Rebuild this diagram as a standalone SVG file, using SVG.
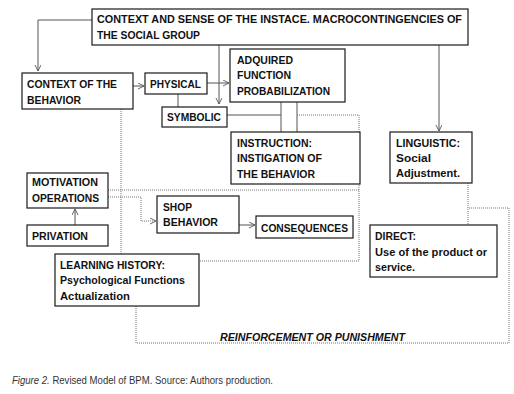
<svg xmlns="http://www.w3.org/2000/svg" width="514" height="394" viewBox="0 0 514 394">
<defs>
<style>
.box{fill:#fff;stroke:#1a1a1a;stroke-width:1.2}
.t{font-family:"Liberation Sans",Arial,sans-serif;font-weight:bold;font-size:11.2px;fill:#111}
.s{fill:none;stroke:#555;stroke-width:1}
.d{fill:none;stroke:#777;stroke-width:1;stroke-dasharray:1 1}
.cap{font-family:"Liberation Sans",Arial,sans-serif;font-size:10.5px;fill:#333}
</style>
<marker id="ar" markerWidth="8" markerHeight="8" refX="6" refY="3" orient="auto" markerUnits="userSpaceOnUse">
<path d="M0,0 L6,3 L0,6" fill="none" stroke="#555" stroke-width="0.9"/>
</marker>
</defs>
<rect width="514" height="394" fill="#fff"/>
<g id="connectors">
<path class="s" d="M92,20 H38 V71" marker-end="url(#ar)"/>
<path class="s" d="M133,86 H144" marker-end="url(#ar)"/>
<path class="s" d="M207,83 H229" marker-end="url(#ar)"/>
<path class="s" d="M219,45 V104" marker-end="url(#ar)"/>
<path class="s" d="M178,94 V107"/>
<path class="s" d="M227,115 H281"/>
<path class="s" d="M281,102 V132"/>
<path class="s" d="M297,102 V132"/>
<path class="s" d="M439,45 V131" marker-end="url(#ar)"/>
<path class="s" d="M75,225 V209" marker-end="url(#ar)"/>
<path class="s" d="M239,225 H255" marker-end="url(#ar)"/>
<path class="d" d="M297,115 H359 V261 H199"/>
<path class="d" d="M108,190 H359"/>
<path class="d" d="M108,197 H141 V221 H156" marker-end="url(#ar)"/>
<path class="d" d="M121,109 V254"/>
<path class="d" d="M136,306 V343 H509 V208 H468"/>
<path class="d" d="M468,183 V225"/>
</g>
<g id="n-top">
<rect class="box" x="92" y="9" width="376" height="36"/>
<text class="t" x="97" y="23" textLength="365" lengthAdjust="spacingAndGlyphs">CONTEXT AND SENSE OF THE INSTACE. MACROCONTINGENCIES OF</text>
<text class="t" x="97" y="39" textLength="103" lengthAdjust="spacingAndGlyphs">THE SOCIAL GROUP</text>
</g>
<g id="n-context">
<rect class="box" x="22" y="73" width="111" height="36"/>
<text class="t" x="27" y="88" textLength="90" lengthAdjust="spacingAndGlyphs">CONTEXT OF THE</text>
<text class="t" x="27" y="104" textLength="54" lengthAdjust="spacingAndGlyphs">BEHAVIOR</text>
</g>
<g id="n-physical">
<rect class="box" x="145" y="73" width="62" height="21"/>
<text class="t" x="150" y="88" textLength="51" lengthAdjust="spacingAndGlyphs">PHYSICAL</text>
</g>
<g id="n-symbolic">
<rect class="box" x="162" y="107" width="65" height="20"/>
<text class="t" x="167" y="121" textLength="54" lengthAdjust="spacingAndGlyphs">SYMBOLIC</text>
</g>
<g id="n-adquired">
<rect class="box" x="230" y="49" width="115" height="53"/>
<text class="t" x="237" y="64" textLength="56" lengthAdjust="spacingAndGlyphs">ADQUIRED</text>
<text class="t" x="237" y="79" textLength="54" lengthAdjust="spacingAndGlyphs">FUNCTION</text>
<text class="t" x="237" y="95" textLength="93" lengthAdjust="spacingAndGlyphs">PROBABILIZATION</text>
</g>
<g id="n-instruction">
<rect class="box" x="231" y="132" width="129" height="52"/>
<text class="t" x="237" y="147" textLength="75" lengthAdjust="spacingAndGlyphs">INSTRUCTION:</text>
<text class="t" x="237" y="162" textLength="85" lengthAdjust="spacingAndGlyphs">INSTIGATION OF</text>
<text class="t" x="237" y="178" textLength="78" lengthAdjust="spacingAndGlyphs">THE BEHAVIOR</text>
</g>
<g id="n-linguistic">
<rect class="box" x="390" y="132" width="82" height="51"/>
<text class="t" x="396" y="147" textLength="64" lengthAdjust="spacingAndGlyphs">LINGUISTIC:</text>
<text class="t" x="396" y="162" textLength="35" lengthAdjust="spacingAndGlyphs">Social</text>
<text class="t" x="396" y="177" textLength="64" lengthAdjust="spacingAndGlyphs">Adjustment.</text>
</g>
<g id="n-direct">
<rect class="box" x="370" y="225" width="127" height="52"/>
<text class="t" x="375" y="240" textLength="41" lengthAdjust="spacingAndGlyphs">DIRECT:</text>
<text class="t" x="375" y="256" textLength="112" lengthAdjust="spacingAndGlyphs">Use of the product or</text>
<text class="t" x="375" y="271" textLength="40" lengthAdjust="spacingAndGlyphs">service.</text>
</g>
<g id="n-motivation">
<rect class="box" x="27" y="173" width="81" height="35"/>
<text class="t" x="32" y="186" textLength="66" lengthAdjust="spacingAndGlyphs">MOTIVATION</text>
<text class="t" x="32" y="202" textLength="67" lengthAdjust="spacingAndGlyphs">OPERATIONS</text>
</g>
<g id="n-privation">
<rect class="box" x="27" y="225" width="81" height="21"/>
<text class="t" x="32" y="240" textLength="56" lengthAdjust="spacingAndGlyphs">PRIVATION</text>
</g>
<g id="n-shop">
<rect class="box" x="157" y="196" width="82" height="37"/>
<text class="t" x="163" y="211" textLength="29" lengthAdjust="spacingAndGlyphs">SHOP</text>
<text class="t" x="163" y="226" textLength="55" lengthAdjust="spacingAndGlyphs">BEHAVIOR</text>
</g>
<g id="n-consequences">
<rect class="box" x="256" y="216" width="97" height="22"/>
<text class="t" x="261" y="232" textLength="87" lengthAdjust="spacingAndGlyphs">CONSEQUENCES</text>
</g>
<g id="n-learning">
<rect class="box" x="55" y="254" width="144" height="52"/>
<text class="t" x="60" y="269" textLength="105" lengthAdjust="spacingAndGlyphs">LEARNING HISTORY:</text>
<text class="t" x="60" y="284" textLength="125" lengthAdjust="spacingAndGlyphs">Psychological Functions</text>
<text class="t" x="60" y="300" textLength="70" lengthAdjust="spacingAndGlyphs">Actualization</text>
</g>
<text class="t" x="220" y="341" font-style="italic" textLength="185" lengthAdjust="spacingAndGlyphs">REINFORCEMENT OR PUNISHMENT</text>
<text class="cap" x="12" y="384" textLength="261" lengthAdjust="spacingAndGlyphs"><tspan font-style="italic">Figure 2.</tspan> Revised Model of BPM. Source: Authors production.</text>
</svg>
